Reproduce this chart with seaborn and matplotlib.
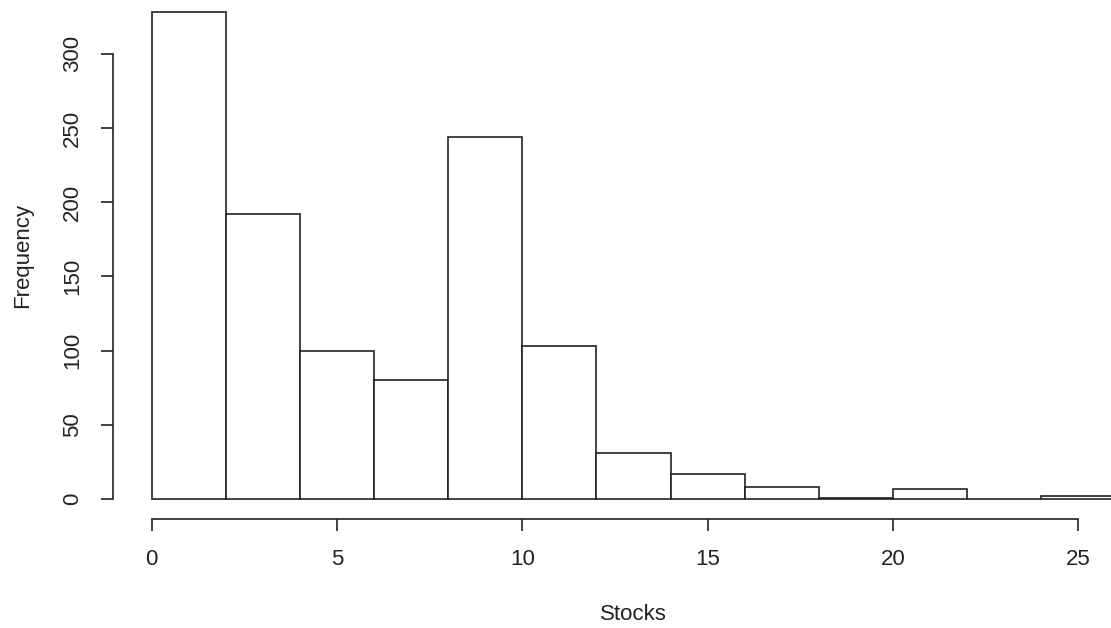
import numpy as np
import pandas as pd
import matplotlib
matplotlib.use("Agg")
import matplotlib.pyplot as plt
import seaborn as sns

# Data
bin_edges = [0, 2, 4, 6, 8, 10, 12, 14, 16, 18, 20, 22, 24, 26]
counts = [328, 192, 100, 80, 244, 103, 31, 17, 8, 1, 7, 0, 2]
x_ticks = [0, 5, 10, 15, 20, 25]
y_ticks = [0, 50, 100, 150, 200, 250, 300]
x_label = "Stocks"
y_label = "Frequency"

sns.set_style("white")
plt.rcParams['font.family'] = ['Liberation Sans', 'DejaVu Sans']

centers = [(a + b) / 2 for a, b in zip(bin_edges[:-1], bin_edges[1:])]
df = pd.DataFrame({"Stocks": centers, "n": counts})

fig = plt.figure(figsize=(11.11, 6.28), dpi=100)
ax = fig.add_axes([0.1018, 0.1740, 0.9369, 0.8377])

sns.histplot(data=df, x="Stocks", weights="n", bins=bin_edges, ax=ax,
             color="white", edgecolor="#222222", linewidth=1.2, alpha=1)

ax.set_xlim(-1.04, 27.04)
ax.set_ylim(-13.12, 341.12)
ax.set_xticks(x_ticks)
ax.set_yticks(y_ticks)
ax.set_xticklabels([str(v) for v in x_ticks])
ax.set_yticklabels([str(v) for v in y_ticks], rotation=90, va="center")

for s in ["top", "right"]:
    ax.spines[s].set_visible(False)
for s in ["left", "bottom"]:
    ax.spines[s].set_color("#222222")
    ax.spines[s].set_linewidth(1.2)
ax.spines["left"].set_bounds(0, 300)
ax.spines["bottom"].set_bounds(0, 25)

ax.tick_params(axis="both", direction="out", length=8.6, width=1.2,
               color="#222222", labelsize=16, labelcolor="#222222",
               pad=13, left=True, bottom=True)
ax.set_xlabel("")
ax.set_ylabel("")

fig.text(633 / 1111, 1 - 614 / 628, x_label, ha="center", va="center",
         fontsize=16, color="#222222")
fig.text(23 / 1111, 1 - 255 / 628, y_label, ha="center", va="center",
         rotation=90, fontsize=16, color="#222222")

fig.savefig("out.png", dpi=100)
